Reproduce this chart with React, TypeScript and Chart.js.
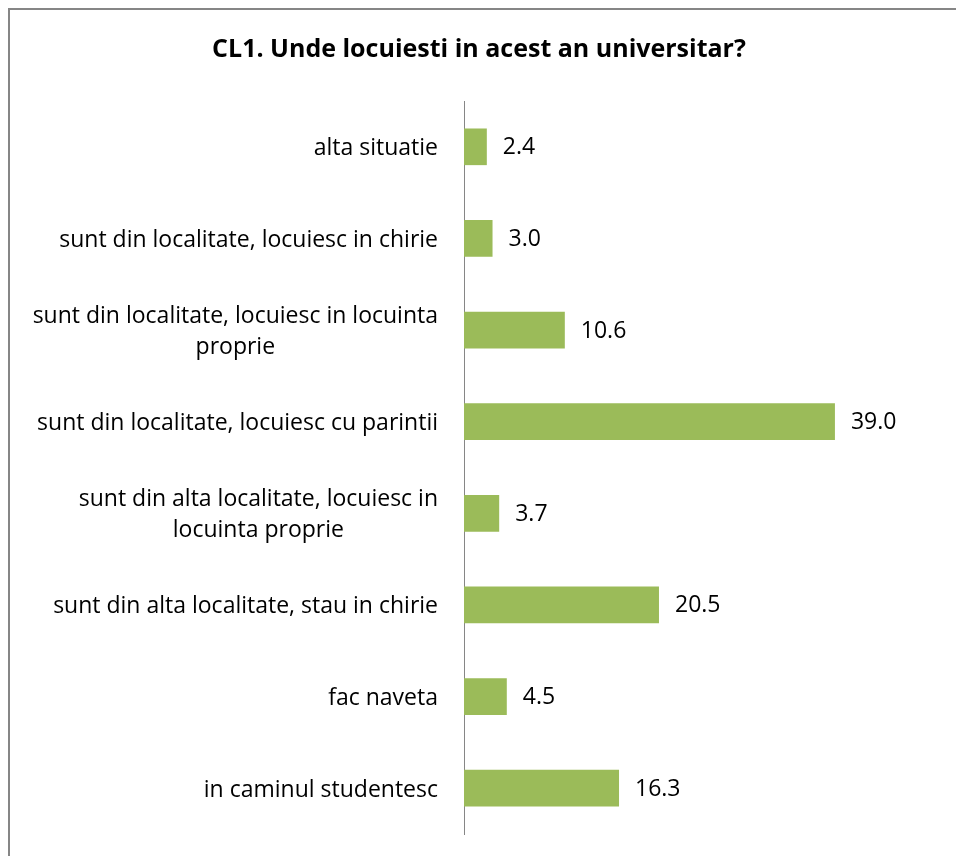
import React, { useEffect, useRef } from "react";
import { Chart, registerables } from "chart.js";

Chart.register(...registerables);

const chartTitle = "CL1. Unde locuiesti in acest an universitar?";

const categories: string[][] = [
  ["alta situatie"],
  ["sunt din localitate, locuiesc in chirie"],
  ["sunt din localitate, locuiesc in locuinta", "proprie"],
  ["sunt din localitate, locuiesc cu parintii"],
  ["sunt din alta localitate, locuiesc in", "locuinta proprie"],
  ["sunt din alta localitate, stau in chirie"],
  ["fac naveta"],
  ["in caminul studentesc"],
];

const values: number[] = [2.4, 3.0, 10.6, 39.0, 3.7, 20.5, 4.5, 16.3];

const BAR_COLOR = "#9BBB59";
const AXIS_COLOR = "#868686";
const FONT = '"Open Sans", "Liberation Sans", sans-serif';

const labelsPlugin = {
  id: "excelLabels",
  afterDatasetsDraw(chart: any) {
    const ctx: CanvasRenderingContext2D = chart.ctx;
    const yScale = chart.scales.y;
    ctx.save();
    ctx.fillStyle = "#000000";

    // title
    ctx.font = `bold 25px ${FONT}`;
    ctx.textAlign = "center";
    ctx.textBaseline = "middle";
    ctx.fillText(chartTitle, 469, 40);

    // category labels (each label block right aligned, lines centred)
    ctx.font = `23px ${FONT}`;
    const rightEdge = chart.chartArea.left - 26;
    const lineGap = 31;
    categories.forEach((lines, i) => {
      const y = yScale.getPixelForValue(i) + 2;
      const maxW = Math.max(...lines.map((l) => ctx.measureText(l).width));
      const cx = rightEdge - maxW / 2;
      const y0 = y - ((lines.length - 1) * lineGap) / 2;
      lines.forEach((l, k) => {
        ctx.textAlign = "center";
        ctx.fillText(l, cx, y0 + k * lineGap);
      });
    });

    // value labels
    ctx.font = `23px ${FONT}`;
    ctx.textAlign = "left";
    const meta = chart.getDatasetMeta(0);
    meta.data.forEach((bar: any, i: number) => {
      ctx.fillText(values[i].toFixed(1), bar.x + 16, bar.y + 1);
    });
    ctx.restore();
  },
};

export default function App() {
  const canvasRef = useRef<HTMLCanvasElement | null>(null);

  useEffect(() => {
    document.documentElement.style.overflow = "hidden";
    const canvas = canvasRef.current;
    if (!canvas) return;
    const chart = new Chart(canvas, {
      type: "bar",
      data: {
        labels: categories.map((c) => c.join(" ")),
        datasets: [
          {
            data: values,
            backgroundColor: BAR_COLOR,
            borderWidth: 0,
            barPercentage: 0.4,
            categoryPercentage: 1,
          },
        ],
      },
      options: {
        indexAxis: "y",
        responsive: false,
        animation: false,
        devicePixelRatio: 1,
        layout: { padding: { left: 454, right: 64, top: 91, bottom: 22 } },
        plugins: {
          legend: { display: false },
          title: { display: false },
          tooltip: { enabled: false },
        },
        scales: {
          x: {
            display: false,
            min: 0,
            max: 45,
          },
          y: {
            display: true,
            grid: { display: false, drawTicks: false },
            ticks: { display: false },
            border: { display: true, color: AXIS_COLOR, width: 1 },
            afterFit: (s: any) => {
              s.width = 0;
            },
          },
        },
      },
      plugins: [labelsPlugin],
    });
    return () => chart.destroy();
  }, []);

  return (
    <div
      style={{
        position: "fixed",
        left: 8,
        top: 8,
        width: 1000,
        height: 1000,
        border: `2px solid ${AXIS_COLOR}`,
        boxSizing: "border-box",
        background: "#ffffff",
      }}
    >
      <canvas
        ref={canvasRef}
        width={946}
        height={846}
        style={{ display: "block", width: 946, height: 846 }}
      />
    </div>
  );
}
